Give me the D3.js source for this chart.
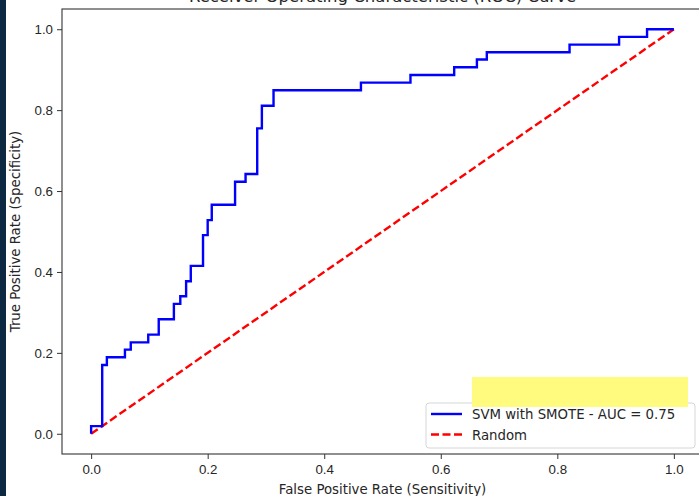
<!DOCTYPE html>
<html>
<head>
<meta charset="utf-8">
<script src="https://cdn.jsdelivr.net/npm/d3@7"></script>
<style>
  body { margin: 0; background: #fff; }
  svg { display: block; font-family: "DejaVu Sans", sans-serif; }
  .tick text { font-size: 13.3px; fill: #262626; }
  .tick line { stroke: #333; }
</style>
</head>
<body>
<div id="chart"></div>
<script>
// ROC points (step corners)
var fpr = [0, 0, 0.019, 0.027, 0.058, 0.068, 0.098, 0.116, 0.142, 0.153, 0.163, 0.171,
           0.192, 0.200, 0.207, 0.247, 0.265, 0.285, 0.293, 0.313, 0.463, 0.548, 0.623,
           0.662, 0.679, 0.821, 0.906, 0.954, 1.0];
var tpr = [0, 0.019, 0.170, 0.189, 0.208, 0.226, 0.245, 0.283, 0.321, 0.340, 0.377, 0.415,
           0.491, 0.528, 0.566, 0.623, 0.642, 0.755, 0.811, 0.849, 0.868, 0.887, 0.906,
           0.925, 0.943, 0.962, 0.981, 1.0, 1.0];
var randomLine = [[0, 0], [1, 1]];
var tickValues = [0, 0.2, 0.4, 0.6, 0.8, 1.0];
var legendLabels = ["SVM with SMOTE - AUC = 0.75", "Random"];

var W = 699, H = 496;
var margin = {top: 9, left: 62, bottom: 42};

var svg = d3.select("#chart")
  .append("svg")
    .attr("width", W)
    .attr("height", H);

// dark strip on the left edge
svg.append("rect")
  .attr("x", 0).attr("y", 0)
  .attr("width", 6).attr("height", H)
  .attr("fill", "#0c2941");

var x = d3.scaleLinear()
  .domain([-0.05, 1.05])
  .range([margin.left, 703]);

var y = d3.scaleLinear()
  .domain([-0.05, 1.05])
  .range([H - margin.bottom, margin.top]);

// title (mostly cut off at the top, as in the screenshot)
svg.append("text")
  .attr("x", (x(-0.05) + x(1.05)) / 2)
  .attr("y", 2)
  .attr("text-anchor", "middle")
  .style("font-size", "16.5px")
  .attr("fill", "#262626")
  .text("Receiver Operating Characteristic (ROC) Curve");

// axes
svg.append("g")
  .attr("transform", "translate(0," + y(-0.05) + ")")
  .call(d3.axisBottom(x).tickValues(tickValues).tickFormat(d3.format(".1f"))
    .tickSize(5).tickPadding(6))
  .call(g => g.select(".domain").remove());

svg.append("g")
  .attr("transform", "translate(" + x(-0.05) + ",0)")
  .call(d3.axisLeft(y).tickValues(tickValues).tickFormat(d3.format(".1f"))
    .tickSize(5).tickPadding(4))
  .call(g => g.select(".domain").remove());

// axis labels
svg.append("text")
  .attr("x", (x(-0.05) + x(1.05)) / 2)
  .attr("y", 494)
  .attr("text-anchor", "middle")
  .style("font-size", "13.3px")
  .attr("fill", "#262626")
  .text("False Positive Rate (Sensitivity)");

svg.append("text")
  .attr("transform", "translate(20," + (y(-0.05) + y(1.05)) / 2 + ") rotate(-90)")
  .attr("text-anchor", "middle")
  .style("font-size", "13.3px")
  .attr("fill", "#262626")
  .text("True Positive Rate (Specificity)");

// random diagonal
svg.append("path")
  .datum(randomLine)
  .attr("fill", "none")
  .attr("stroke", "#ff0000")
  .attr("stroke-width", 2.4)
  .attr("stroke-dasharray", "8,3.5")
  .attr("d", d3.line().x(d => x(d[0])).y(d => y(d[1])));

// ROC curve
svg.append("path")
  .datum(d3.zip(fpr, tpr))
  .attr("fill", "none")
  .attr("stroke", "#0000ff")
  .attr("stroke-width", 2.4)
  .attr("d", d3.line().curve(d3.curveStepAfter).x(d => x(d[0])).y(d => y(d[1])));

// frame
svg.append("rect")
  .attr("x", x(-0.05)).attr("y", y(1.05))
  .attr("width", x(1.05) - x(-0.05))
  .attr("height", y(-0.05) - y(1.05))
  .attr("fill", "none")
  .attr("stroke", "#333")
  .attr("stroke-width", 1.1);

// legend
var lg = svg.append("g").attr("transform", "translate(426,403)");
lg.append("rect")
  .attr("width", 269).attr("height", 45)
  .attr("rx", 3)
  .attr("fill", "rgba(255,255,255,0.85)")
  .attr("stroke", "#d6d6d6");
var colors = ["#0000ff", "#ff0000"];
legendLabels.forEach((t, i) => {
  lg.append("line")
    .attr("x1", 5).attr("x2", 36)
    .attr("y1", 11 + i * 20.5).attr("y2", 11 + i * 20.5)
    .attr("stroke", colors[i])
    .attr("stroke-width", 2.4)
    .attr("stroke-dasharray", i === 1 ? "8,3.5" : null);
  lg.append("text")
    .attr("x", 46).attr("y", 16 + i * 20.5)
    .style("font-size", "13.3px")
    .attr("fill", "#262626")
    .text(t);
});

// yellow highlight box
svg.append("rect")
  .attr("x", 472).attr("y", 377)
  .attr("width", 216).attr("height", 30)
  .attr("fill", "#fffb7f");
</script>
</body>
</html>
